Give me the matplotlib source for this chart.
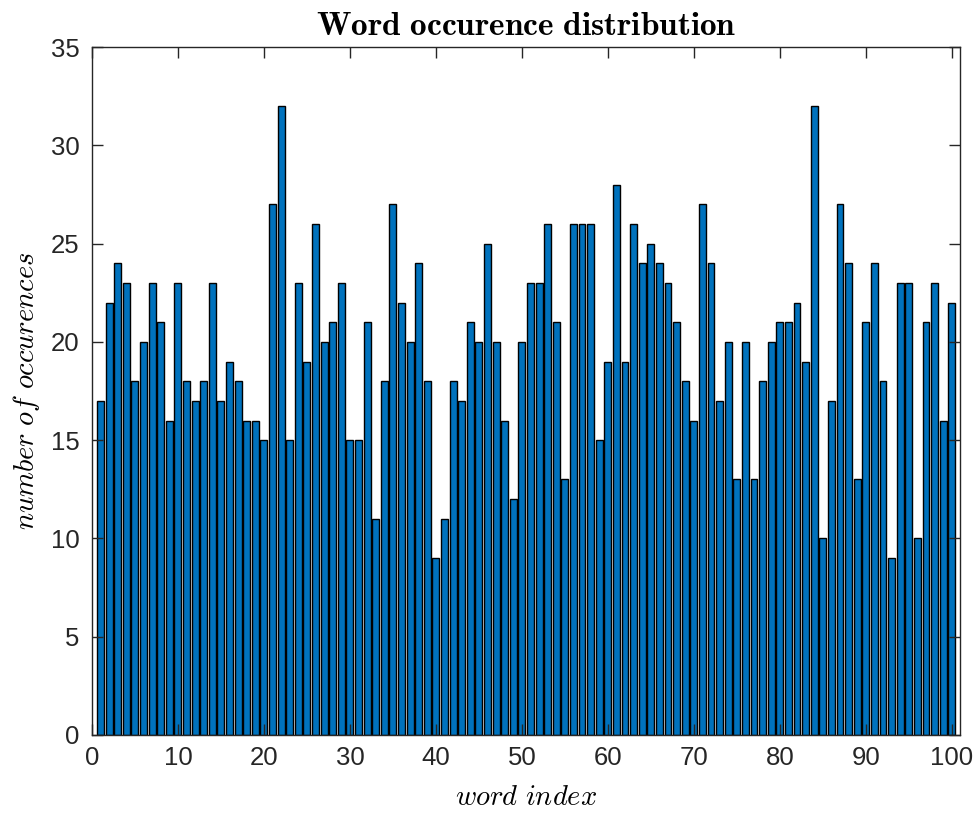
import numpy as np
import matplotlib.pyplot as plt

plt.rcParams['mathtext.fontset'] = 'cm'
plt.rcParams['font.family'] = ['Liberation Sans', 'DejaVu Sans']

# word occurrence counts, word index 1..100
word_index = np.arange(1, 101)
counts = [17, 22, 24, 23, 18, 20, 23, 21, 16, 23,
          18, 17, 18, 23, 17, 19, 18, 16, 16, 15,
          27, 32, 15, 23, 19, 26, 20, 21, 23, 15,
          15, 21, 11, 18, 27, 22, 20, 24, 18, 9,
          11, 18, 17, 21, 20, 25, 20, 16, 12, 20,
          23, 23, 26, 21, 13, 26, 26, 26, 15, 19,
          28, 19, 26, 24, 25, 24, 23, 21, 18, 16,
          27, 24, 17, 20, 13, 20, 13, 18, 20, 21,
          21, 22, 19, 32, 10, 17, 27, 24, 13, 21,
          24, 18, 9, 23, 23, 10, 21, 23, 16, 22]
xticks = np.arange(0, 101, 10)
yticks = np.arange(0, 36, 5)

fig = plt.figure(figsize=(9.78, 8.13), dpi=100)
ax = fig.add_axes([0.094, 0.096, 0.888, 0.846])

ax.bar(word_index, counts, width=0.8, color='#0072BD', edgecolor='black', linewidth=1.0)

ax.set_xlim(0, 101)
ax.set_ylim(0, 35)
ax.set_xticks(xticks)
ax.set_yticks(yticks)

axis_col = '#262626'
for sp in ax.spines.values():
    sp.set_color(axis_col)
    sp.set_linewidth(1.0)
ax.tick_params(direction='in', top=True, right=True, length=8, width=1.0,
               colors=axis_col, labelsize=18.5)
ax.tick_params(axis='x', pad=8)
ax.tick_params(axis='y', pad=9)

ax.set_title(r'$\mathbf{Word\ occurence\ distribution}$', fontsize=24, pad=9)
ax.set_xlabel(r'$word\ index$', fontsize=20.5, labelpad=11)
ax.set_ylabel(r'$number\ of\ occurences$', fontsize=20.5, labelpad=6)

fig.savefig('out.png', dpi=100)
